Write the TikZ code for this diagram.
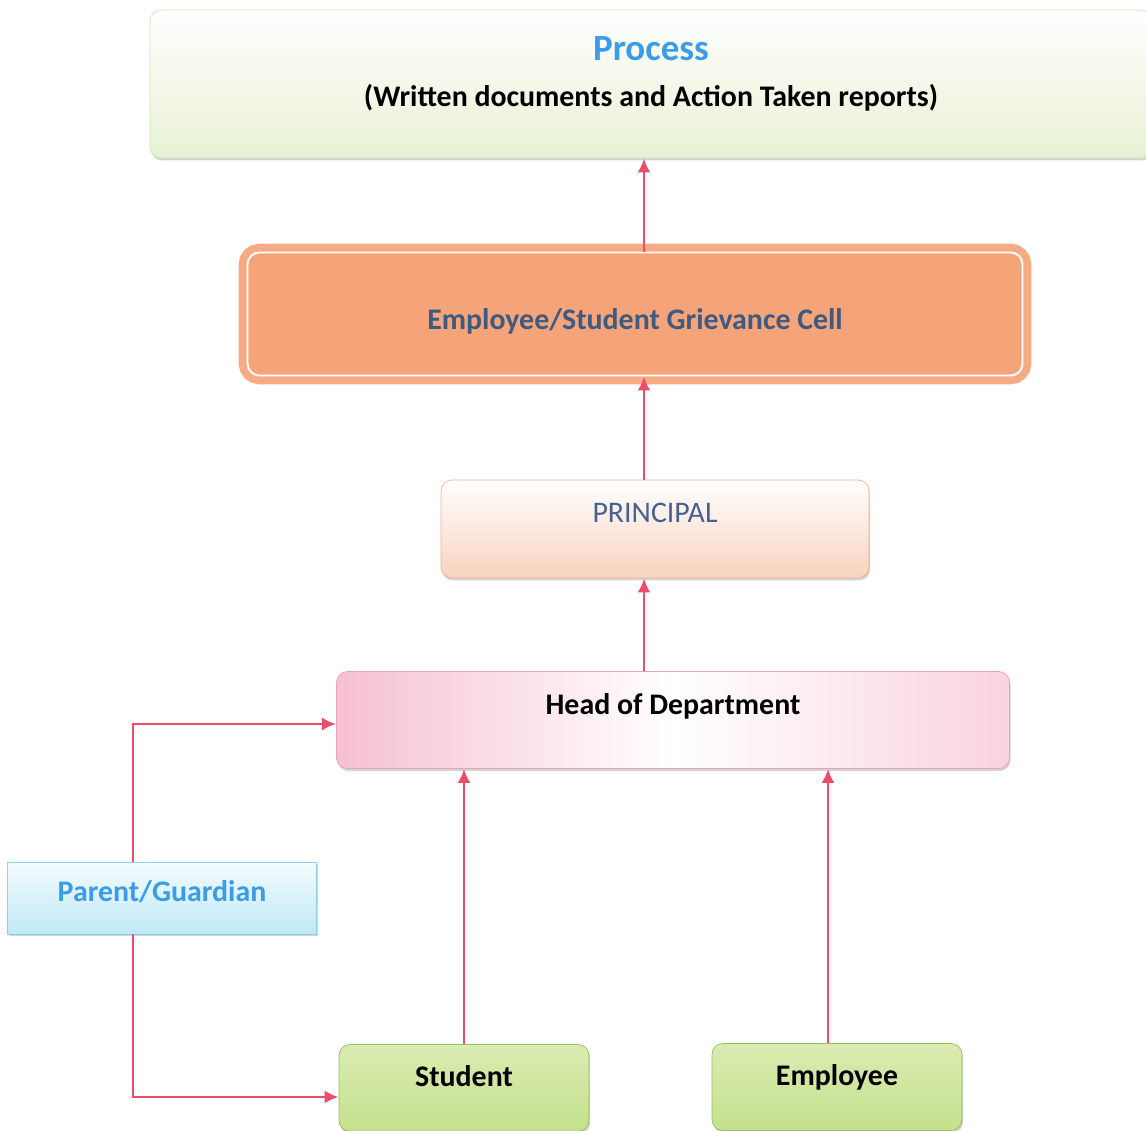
\documentclass[tikz,border=0pt]{standalone}
\usepackage{fontspec}
\setmainfont{Carlito}
\usepackage{tikz}
\usetikzlibrary{calc}
\usetikzlibrary{arrows.meta}
\usetikzlibrary{positioning}
\usetikzlibrary{shadows}
\definecolor{flowred}{RGB}{236,78,106}
\definecolor{titleblue}{RGB}{58,156,234}
\definecolor{cellblue}{RGB}{62,90,128}
\definecolor{cellorange}{RGB}{245,164,122}
\definecolor{princtext}{RGB}{72,98,144}
\definecolor{princedge}{RGB}{240,178,150}
\definecolor{princpeach}{RGB}{249,210,190}
\definecolor{hodpink}{RGB}{246,192,210}
\definecolor{hodedge}{RGB}{233,160,184}
\definecolor{parentfill}{RGB}{190,233,247}
\definecolor{parentedge}{RGB}{140,210,238}
\definecolor{leaftop}{RGB}{218,236,178}
\definecolor{leafbot}{RGB}{196,224,140}
\definecolor{leafedge}{RGB}{150,190,90}
\definecolor{procgreen}{RGB}{232,241,212}
\definecolor{procedge}{RGB}{214,228,182}
\tikzset{>={Latex[length=2.8mm,width=2.6mm]}}
\tikzstyle{box} = [rounded corners=2.2mm, inner sep=0pt, align=center, drop shadow={opacity=0.35, shadow xshift=0.6pt, shadow yshift=-1.4pt}]
\tikzstyle{flow} = [->, draw=flowred, line width=1.6pt]

\begin{document}
\begin{tikzpicture}[x=0.2mm, y=-0.2mm]
\useasboundingbox (0,0) rectangle (1146,1130);
% boxes
\node [box, draw=procedge, top color=white, bottom color=procgreen, minimum width=200.4mm, minimum height=29.6mm] (process) at (651,84)
  {{\color{titleblue}\bfseries\fontsize{21}{25}\selectfont Process}\\[4.4mm]
   {\bfseries\fontsize{17}{20}\selectfont (Written documents and Action Taken reports)}\\[0.9mm]\mbox{}};
\node [rounded corners=2.4mm, inner sep=0pt, fill=cellorange, draw=white, line width=1.1pt, preaction={draw=cellorange!92!white, line width=10pt}, minimum width=155mm, minimum height=24.6mm, text=cellblue, font=\bfseries\fontsize{17}{20}\selectfont, text height=7.4mm, text depth=1.3mm] (gcell) at (635,314) {Employee/Student Grievance Cell};
\node [box, draw=princedge, top color=white, bottom color=princpeach, minimum width=85.6mm, minimum height=19.6mm, text=princtext, font=\fontsize{17}{20}\selectfont, text depth=6.6mm] (principal) at (655,529) {PRINCIPAL};
\node [box, draw=hodedge, left color=hodpink, right color=hodpink!70, middle color=white, minimum width=134.6mm, minimum height=19.4mm, font=\bfseries\fontsize{17}{20}\selectfont, text depth=6.4mm] (hod) at (673,720) {Head of Department};
\node [box, rounded corners=0pt, draw=parentedge, top color=white!85!parentfill, bottom color=parentfill, minimum width=61.8mm, minimum height=14.4mm, text=titleblue, font=\bfseries\fontsize{17}{20}\selectfont, text depth=2.9mm] (parent) at (162,898) {Parent/Guardian};
\node [box, draw=leafedge, top color=leaftop, bottom color=leafbot, minimum width=50mm, minimum height=17.4mm, font=\bfseries\fontsize{17}{20}\selectfont, text depth=4.6mm] (student) at (464,1088) {Student};
\node [box, draw=leafedge, top color=leaftop, bottom color=leafbot, minimum width=50mm, minimum height=17.4mm, font=\bfseries\fontsize{17}{20}\selectfont, text depth=4.6mm] (employee) at (837,1087) {Employee};
% connectors
\coordinate (spine) at (644,0);
\coordinate (empline) at (828,0);
\draw [flow] (gcell.north -| spine) to (process.south -| spine);
\draw [flow] (principal.north -| spine) to (gcell.south -| spine);
\draw [flow] (hod.north -| spine) to (principal.south -| spine);
\draw [flow] (student.north) to (student.north |- hod.south);
\draw [flow] (employee.north -| empline) to (hod.south -| empline);
\draw [flow] ($(parent.north)+(-29,0)$) |- ($(hod.west)+(0,4)$);
\draw [flow] ($(parent.south)+(-29,0)$) |- ($(student.west)+(0,9)$);
\end{tikzpicture}
\end{document}
